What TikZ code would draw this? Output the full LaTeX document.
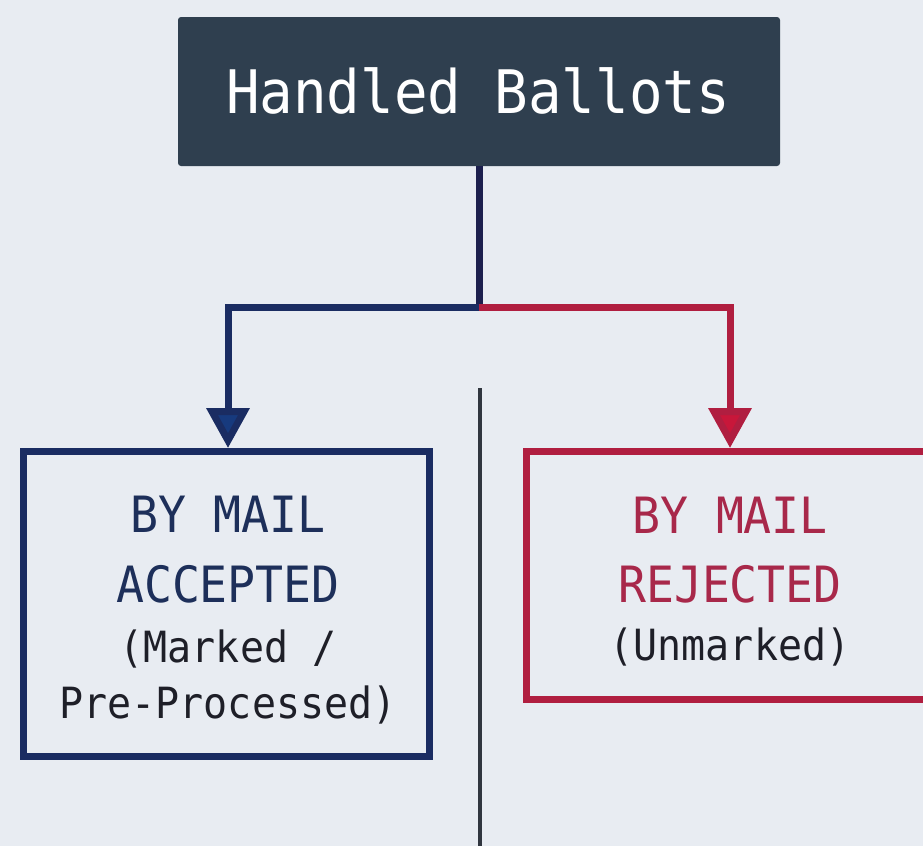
\documentclass[tikz,border=0pt]{standalone}
\usepackage{fontspec}
\newfontfamily\monof[FakeStretch=0.93]{DejaVu Sans Mono}
\usetikzlibrary{arrows.meta,calc}
\definecolor{bgc}{HTML}{E8ECF2}
\definecolor{topfill}{HTML}{2F3F4F}
\definecolor{navyc}{HTML}{1A2C62}
\definecolor{navytip}{HTML}{173A7E}
\definecolor{stemc}{HTML}{1C1F4E}
\definecolor{redc}{HTML}{B01E40}
\definecolor{redtip}{HTML}{C8173A}
\definecolor{navytext}{HTML}{1D2F5A}
\definecolor{redtext}{HTML}{A8284A}
\definecolor{smalltext}{HTML}{1E1F28}
\definecolor{divc}{HTML}{30363F}
\tikzset{
  conn/.style={line width=7pt},
  tipnavy/.style={-{Triangle[width=42pt,length=40pt,fill=navytip]}},
  tipred/.style={-{Triangle[width=42pt,length=40pt,fill=redtip]}},
  boxc/.style={rectangle, line width=7pt, fill=bgc, inner sep=0pt},
  bigtxt/.style={font=\monof\fontsize{50}{54}\selectfont, anchor=base, inner sep=0pt},
  smalltxt/.style={font=\monof\fontsize{43}{46}\selectfont, anchor=base, inner sep=0pt, text=smalltext},
}
\begin{document}
\begin{tikzpicture}[x=1pt, y=1pt]
\useasboundingbox (0,0) rectangle (923,-846);
\clip (0,0) rectangle (923,-846);
\fill[bgc] (0,0) rectangle (923,-846);

% top box
\node[rectangle, fill=topfill, rounded corners=3pt, minimum width=602pt, minimum height=149pt, inner sep=0pt] (top) at (479,-91.5) {};
\node[font=\monof\fontsize{60}{64}\selectfont, text=white, anchor=base, inner sep=0pt] (toptext) at (478,-113) {Handled Ballots};

% divider
\coordinate (divtop) at (480,-388);
\coordinate (divbot) at (480,-846);
\draw[divc, line width=3.5pt] (divtop) -- (divbot);

% boxes
\node[boxc, draw=navyc, minimum width=406pt, minimum height=305pt] (lbox) at (226.5,-604) {};
\node[boxc, draw=redc, minimum width=417pt, minimum height=248pt] (rbox) at (735,-575.5) {};

% left texts
\node[bigtxt, text=navytext] (l1) at (228,-532) {BY MAIL};
\node[bigtxt, text=navytext] (l2) at (228,-602) {ACCEPTED};
\node[smalltxt] (l3) at (228,-662) {(Marked /};
\node[smalltxt] (l4) at (228,-718) {Pre-Processed)};

% right texts
\node[bigtxt, text=redtext] (r1) at (730,-533) {BY MAIL};
\node[bigtxt, text=redtext] (r2) at (730,-602) {REJECTED};
\node[smalltxt] (r3) at (730,-660) {(Unmarked)};

% connectors
\coordinate (split) at (479,-307);
\draw[conn, stemc] (top.south) -- (split);
\draw[conn, navyc, tipnavy] (split) -| (lbox.north -| l1.base);
\draw[conn, redc, tipred] (split) -| (rbox.north -| r1.base);
\end{tikzpicture}
\end{document}
